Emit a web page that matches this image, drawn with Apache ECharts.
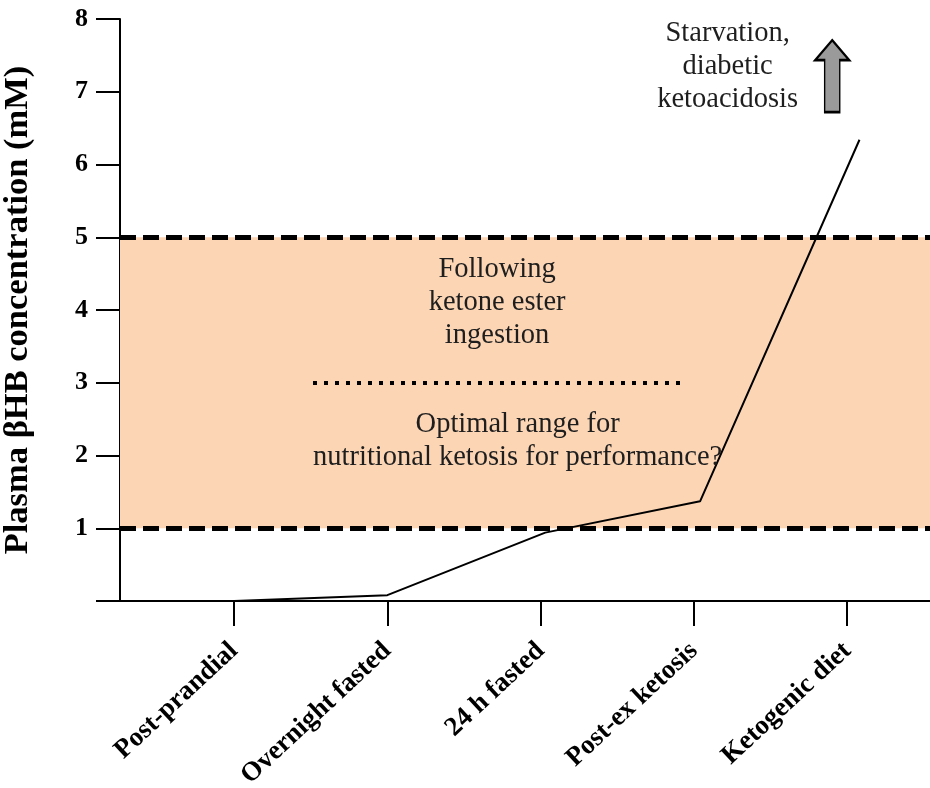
<!DOCTYPE html>
<html>
<head>
<meta charset="utf-8">
<script src="https://cdn.jsdelivr.net/npm/echarts@6/dist/echarts.min.js"></script>
<style>html,body{margin:0;padding:0;background:#fff}#c{width:930px;height:788px}</style>
</head>
<body>
<div id="c"></div>
<script>
var categories = ['Post-prandial', 'Overnight fasted', '24 h fasted', 'Post-ex ketosis', 'Ketogenic diet'];
var categoryPos = [1, 2, 3, 4, 5];
var lineX = [1, 2, 3.03, 4.04, 5.08];
var lineY = [0, 0.08, 0.94, 1.37, 6.34];
var yTicks = [1, 2, 3, 4, 5, 6, 7, 8];
var bandRange = [1, 5];
var dottedLine = { x0: 1.515, x1: 3.93, y: 3 };
var notes = [
  { text: 'Starvation,\ndiabetic\nketoacidosis', x: 4.22, y: 7.345 },
  { text: 'Following\nketone ester\ningestion', x: 2.716, y: 4.108 },
  { text: 'Optimal range for\nnutritional ketosis for performance?', x: 2.85, y: 2.202 }
];
var arrowPos = [4.902, 7.215];

var serif = "'Liberation Serif','Times New Roman',serif";
var chart = echarts.init(document.getElementById('c'));
var lineData = lineX.map(function (x, i) { return [x, lineY[i]]; });

chart.setOption({
  animation: false,
  grid: { left: 120, right: 0, top: 19, bottom: 187, containLabel: false, outerBoundsMode: 'none' },
  xAxis: {
    type: 'value', min: 0.256, max: 5.54,
    splitLine: { show: false },
    axisLine: { show: true, lineStyle: { color: '#000', width: 2 } },
    axisTick: { show: true, customValues: categoryPos, length: 25, lineStyle: { color: '#000', width: 2 } },
    axisLabel: {
      customValues: categoryPos, rotate: 43, margin: 46,
      fontFamily: serif, fontWeight: 'bold', fontSize: 27, color: '#000',
      formatter: function (v) { return categories[Math.round(v) - 1] || ''; }
    }
  },
  yAxis: {
    type: 'value', min: 0, max: 8, interval: 1,
    name: 'Plasma \u03B2HB concentration (mM)', nameLocation: 'middle', nameGap: 84,
    nameTextStyle: { fontFamily: serif, fontWeight: 'bold', fontSize: 34.5, color: '#000' },
    splitLine: { show: false },
    axisLine: { show: true, lineStyle: { color: '#000', width: 2 } },
    axisTick: { show: true, length: 24, lineStyle: { color: '#000', width: 2 } },
    axisLabel: {
      margin: 32, fontFamily: serif, fontWeight: 'bold', fontSize: 26, color: '#000',
      formatter: function (v) { return yTicks.indexOf(v) >= 0 ? String(v) : ''; }
    }
  },
  series: [{
    type: 'line', data: lineData, showSymbol: false, symbol: 'none', silent: true,
    lineStyle: { color: '#000', width: 2 }, z: 3,
    markArea: {
      silent: true,
      itemStyle: { color: '#FCD5B5' },
      data: [[{ yAxis: bandRange[0] }, { yAxis: bandRange[1] }]]
    },
    markLine: {
      silent: true, symbol: 'none', label: { show: false },
      data: [
        { yAxis: bandRange[0], lineStyle: { color: '#000', width: 5, type: [16, 7] } },
        { yAxis: bandRange[1], lineStyle: { color: '#000', width: 5, type: [16, 7] } },
        [{ coord: [dottedLine.x0, dottedLine.y], lineStyle: { color: '#000', width: 4, type: [4, 7] } },
         { coord: [dottedLine.x1, dottedLine.y] }]
      ]
    },
    markPoint: {
      silent: true,
      data: notes.map(function (n) {
        return {
          coord: [n.x, n.y], symbol: 'circle', symbolSize: 1,
          itemStyle: { color: 'rgba(0,0,0,0)' },
          label: {
            show: true, position: 'inside', formatter: n.text,
            fontFamily: serif, fontSize: 28.5, color: '#1e1e1e', lineHeight: 33, align: 'center'
          }
        };
      }).concat([{
        coord: arrowPos,
        symbol: 'path://M8,0 L17,10 L12,10 L12,36 L4,36 L4,10 L-1,10 Z',
        symbolSize: [34, 72], symbolKeepAspect: false,
        itemStyle: { color: '#9a9a9a', borderColor: '#000', borderWidth: 2 },
        label: { show: false }
      }])
    }
  }]
});
</script>
</body>
</html>
